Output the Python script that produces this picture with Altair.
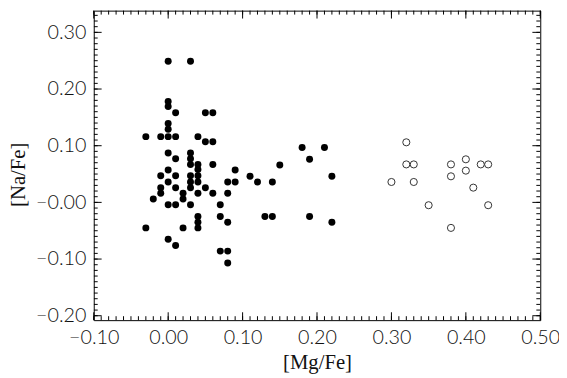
import altair as alt
import pandas as pd

# ---- data ----
filled_mg = [0.00, 0.03, 0.00, 0.00, 0.01, 0.05, 0.06, 0.00, 0.00, -0.03,
             -0.01, 0.00, 0.01, 0.04, 0.05, 0.06, 0.00, 0.01, 0.03, 0.03,
             0.03, 0.04, 0.06, 0.04, 0.00, 0.09, -0.01, 0.01, 0.03, 0.04,
             0.00, 0.03, 0.04, 0.08, 0.09, -0.01, 0.01, 0.03, 0.05, -0.01,
             0.02, 0.04, 0.06, 0.08, -0.02, 0.02, 0.00, 0.01, 0.03, 0.07,
             0.04, 0.07, 0.04, 0.08, 0.04, -0.03, 0.02, 0.00, 0.01, 0.07,
             0.08, 0.08, 0.11, 0.12, 0.14, 0.15, 0.18, 0.21, 0.19, 0.22,
             0.13, 0.14, 0.19, 0.22]
filled_na = [0.249, 0.249, 0.178, 0.169, 0.158, 0.158, 0.158, 0.139, 0.129, 0.116,
             0.116, 0.116, 0.116, 0.116, 0.107, 0.107, 0.087, 0.077, 0.087, 0.077,
             0.067, 0.067, 0.067, 0.058, 0.057, 0.057, 0.047, 0.047, 0.047, 0.047,
             0.036, 0.036, 0.036, 0.036, 0.036, 0.026, 0.026, 0.026, 0.026, 0.016,
             0.016, 0.016, 0.016, 0.016, 0.006, 0.006, -0.004, -0.004, -0.004, -0.004,
             -0.025, -0.025, -0.035, -0.035, -0.045, -0.045, -0.045, -0.065, -0.076, -0.086,
             -0.086, -0.107, 0.046, 0.036, 0.036, 0.066, 0.097, 0.097, 0.076, 0.046,
             -0.025, -0.025, -0.025, -0.035]

open_mg = [0.32, 0.32, 0.33, 0.30, 0.33, 0.35, 0.38, 0.38, 0.40, 0.40,
           0.42, 0.43, 0.41, 0.43, 0.38]
open_na = [0.106, 0.067, 0.067, 0.036, 0.036, -0.005, 0.067, 0.046, 0.076, 0.056,
           0.067, 0.067, 0.026, -0.005, -0.045]

x_major = [-0.10, 0.00, 0.10, 0.20, 0.30, 0.40, 0.50]
y_major = [-0.20, -0.10, 0.00, 0.10, 0.20, 0.30]
x_minor = [round(-0.10 + i * 0.01, 2) for i in range(61)]
y_minor = [round(-0.20 + i * 0.01, 2) for i in range(54)]

X_DOM = [-0.10, 0.50]
Y_DOM = [-0.2078, 0.3383]
W, H = 453, 314

df_f = pd.DataFrame({"mg": filled_mg, "na": filled_na})
df_o = pd.DataFrame({"mg": open_mg, "na": open_na})

xs = alt.Scale(domain=X_DOM, nice=False, zero=False)
ys = alt.Scale(domain=Y_DOM, nice=False, zero=False)

x_axis = alt.Axis(
    values=x_major, format=".2f", title="[Mg/Fe]", grid=False, ticks=False,
    domain=False, labelFlush=False, labelOverlap=False,
    labelFont="Lato", labelFontWeight=300, labelFontSize=20, labelColor="#111",
    labelPadding=18, labelBaseline="middle",
    titleFont="Liberation Serif", titleFontSize=21, titleFontWeight="normal",
    titleColor="#111", titleY=43, titleBaseline="middle")

y_axis = alt.Axis(
    values=y_major, title="[Na/Fe]", grid=False, ticks=False, domain=False,
    labelFlush=False, labelOverlap=False,
    labelExpr="abs(datum.value) < 1e-9 ? '\u22120.00' : format(datum.value, '.2f')",
    labelFont="Lato", labelFontWeight=300, labelFontSize=20, labelColor="#111",
    labelPadding=8,
    titleFont="Liberation Serif", titleFontSize=21, titleFontWeight="normal",
    titleColor="#111", titleAngle=270, titleX=-76, titleY=166,
    titleAlign="center", titleBaseline="middle")

filled = alt.Chart(df_f).mark_point(
    filled=True, shape="circle", size=50, color="black", opacity=1
).encode(x=alt.X("mg:Q", scale=xs, axis=x_axis),
         y=alt.Y("na:Q", scale=ys, axis=y_axis))

opened = alt.Chart(df_o).mark_point(
    filled=False, shape="circle", size=52, color="#333", strokeWidth=1, opacity=1
).encode(x=alt.X("mg:Q", scale=xs, axis=x_axis),
         y=alt.Y("na:Q", scale=ys, axis=y_axis))

dfx_maj = pd.DataFrame({"mg": x_major})
dfx_min = pd.DataFrame({"mg": x_minor})
dfy_maj = pd.DataFrame({"na": y_major})
dfy_min = pd.DataFrame({"na": y_minor})


def xticks(df, length):
    bottom = alt.Chart(df).mark_rule(color="black", strokeWidth=1).encode(
        x=alt.X("mg:Q", scale=xs, axis=x_axis),
        y=alt.value(H), y2=alt.value(H - length))
    top = alt.Chart(df).mark_rule(color="black", strokeWidth=1).encode(
        x=alt.X("mg:Q", scale=xs, axis=x_axis),
        y=alt.value(0), y2=alt.value(length))
    return [bottom, top]


def yticks(df, length):
    left = alt.Chart(df).mark_rule(color="black", strokeWidth=1, clip=True).encode(
        y=alt.Y("na:Q", scale=ys, axis=y_axis),
        x=alt.value(0), x2=alt.value(length))
    right = alt.Chart(df).mark_rule(color="black", strokeWidth=1, clip=True).encode(
        y=alt.Y("na:Q", scale=ys, axis=y_axis),
        x=alt.value(W), x2=alt.value(W - length))
    return [left, right]


layers = ([filled, opened] + xticks(dfx_min, 4) + xticks(dfx_maj, 8) +
          yticks(dfy_min, 4) + yticks(dfy_maj, 8))

chart = alt.layer(*layers).properties(
    width=W, height=H,
    padding={"left": 87, "top": 0, "right": 19, "bottom": 56},
    autosize=alt.AutoSizeParams(type="none"),
    background="white",
).configure_view(stroke="black", strokeWidth=1)

chart.save("out.html", embed_options={"renderer": "svg", "actions": False})
